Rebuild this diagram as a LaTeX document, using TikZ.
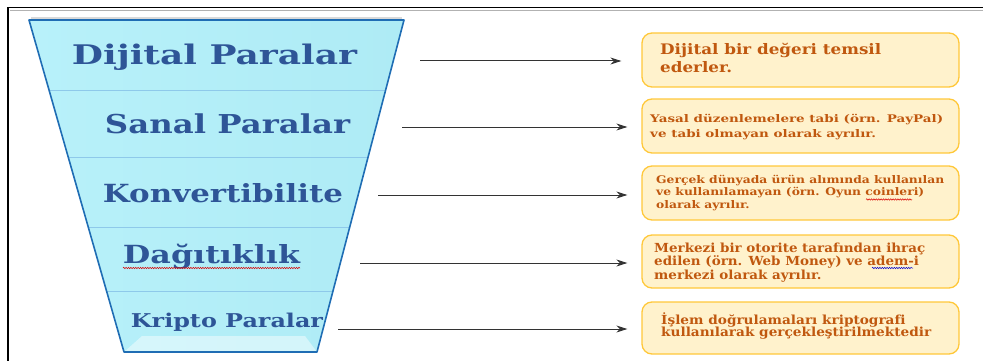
\documentclass[tikz,border=0pt]{standalone}
\usepackage{fontspec}
\setmainfont{DejaVu Serif}
\usepackage{graphicx}
\usetikzlibrary{arrows.meta,calc,decorations.pathmorphing}
\definecolor{ffill}{HTML}{AEEBF5}
\definecolor{ffillL}{HTML}{B8F1FA}
\definecolor{fline}{HTML}{1F6DB4}
\definecolor{fdiv}{HTML}{8EC9EA}
\definecolor{ftext}{HTML}{2E5597}
\definecolor{boxfill}{HTML}{FFF2CC}
\definecolor{boxline}{HTML}{FFC83A}
\definecolor{boxtext}{HTML}{C0580F}
\newcommand\hfit[2]{\resizebox{#1pt}{\height}{#2}}
\newcommand\twolines[2]{\vtop{\lineskiplimit=-\maxdimen\hbox{#1}\hbox{#2}}}
\newcommand\threelines[3]{\vtop{\lineskiplimit=-\maxdimen\hbox{#1}\hbox{#2}\hbox{#3}}}
\tikzset{
  flabel/.style={text=ftext, inner sep=0pt, anchor=base},
  ibox/.style={draw=boxline, fill=boxfill, line width=1.3pt, rounded corners=10pt,
    minimum width=317pt, inner sep=0pt},
  itext/.style={text=boxtext, inner sep=0pt, anchor=base west},
  arr/.style={draw=black!80, line width=1pt, -{Stealth[length=11pt,width=7pt]}},
  squig/.style={decorate, decoration={snake, amplitude=0.7pt, segment length=2.4pt}, line width=0.5pt}
}
\begin{document}
\begin{tikzpicture}[x=1pt,y=-1pt]
\useasboundingbox (0,0) rectangle (983,361);
% outer frame
\draw[black!30, line width=0.8pt] (10,10.5) -- (983,10.5);
\draw[line width=1.6pt] (8,361) -- (8,7.5) -- (983,7.5);
% funnel
\coordinate (ftl) at (29,20);
\coordinate (ftr) at (404,20);
\coordinate (fbr) at (317,352);
\coordinate (fbl) at (124,352);
\draw[black!15, line width=2.5pt] (31,17.8) -- (402,17.8);
\shade[left color=ffillL, right color=ffill] (ftl) -- (ftr) -- (fbr) -- (fbl) -- cycle;
\fill[white, opacity=0.45] (fbl) -- (fbr) -- (305,336) -- (142,336) -- cycle;
\begin{scope}
  \clip (ftl) -- (ftr) -- (fbr) -- (fbl) -- cycle;
  \foreach \yy in {90,157,227,291} \draw[fdiv, line width=0.9pt] (0,\yy) -- (983,\yy);
\end{scope}
\draw[fline, line width=1.6pt, line join=round] (ftl) -- (ftr) -- (fbr) -- (fbl) -- cycle;
% funnel labels
\node[flabel, font={\bfseries\fontsize{27}{30}\selectfont}] (l1) at (214.5,65) {\hfit{285}{Dijital Paralar}};
\node[flabel, font={\bfseries\fontsize{26}{30}\selectfont}] (l2) at (227.5,133) {\hfit{245}{Sanal Paralar}};
\node[flabel, font={\bfseries\fontsize{25}{30}\selectfont}] (l3) at (223,202) {\hfit{240}{Konvertibilite}};
\node[flabel, font={\bfseries\fontsize{25}{30}\selectfont}] (l4) at (211.5,263) {\hfit{177}{Dağıtıklık}};
\node[flabel, font={\bfseries\fontsize{19}{24}\selectfont}] (l5) at (227,327) {\hfit{192}{Kripto Paralar}};
\draw[red!85!black, squig] (123,268) -- (300,268);
% info boxes
\node[ibox, minimum height=54pt] (b1) at (800.5,60) {};
\node[ibox, minimum height=54pt] (b2) at (800.5,126) {};
\node[ibox, minimum height=54pt] (b3) at (800.5,193) {};
\node[ibox, minimum height=53pt] (b4) at (800.5,261.5) {};
\node[ibox, minimum height=52pt] (b5) at (800.5,328) {};
\node[itext, font={\bfseries\fontsize{14.5}{18}\selectfont}] (t1) at (660,55)
  {\hfit{221}{\twolines{Dijital bir değeri temsil}{ederler.}}};
\node[itext, font={\bfseries\fontsize{10.5}{15}\selectfont}] (t2) at (650,122)
  {\hfit{293}{\twolines{Yasal düzenlemelere tabi (örn. PayPal)}{ve tabi olmayan olarak ayrılır.}}};
\node[itext, font={\bfseries\fontsize{10.5}{12.5}\selectfont}] (t3) at (656,183)
  {\hfit{288}{\threelines{Gerçek dünyada ürün alımında kullanılan}{ve kullanılamayan (örn. Oyun coinleri)}{olarak ayrılır.}}};
\node[itext, font={\bfseries\fontsize{12.5}{13.5}\selectfont}] (t4) at (654,252)
  {\hfit{271}{\threelines{Merkezi bir otorite tarafından ihraç}{edilen (örn. Web Money) ve adem-i}{merkezi olarak ayrılır.}}};
\node[itext, font={\bfseries\fontsize{12.5}{12.8}\selectfont}] (t5) at (661,324)
  {\hfit{270}{\twolines{İşlem doğrulamaları kriptograf\kern0pt i}{kullanılarak gerçekleştirilmektedir}}};
\draw[red!85!black, squig] (866,199.5) -- (912,199.5);
\draw[blue!80!black, squig] (872,268) -- (913,268);
% arrows
\coordinate (s1) at (420,61);
\coordinate (s2) at (402,127);
\coordinate (s3) at (378,195);
\coordinate (s4) at (360,263);
\coordinate (s5) at (338,329);
\draw[arr, shorten >=20pt] (s1) -- (s1 -| b1.west);
\draw[arr, shorten >=14pt] (s2) -- (s2 -| b2.west);
\draw[arr, shorten >=14pt] (s3) -- (s3 -| b3.west);
\draw[arr, shorten >=14pt] (s4) -- (s4 -| b4.west);
\draw[arr, shorten >=14pt] (s5) -- (s5 -| b5.west);
\end{tikzpicture}
\end{document}
